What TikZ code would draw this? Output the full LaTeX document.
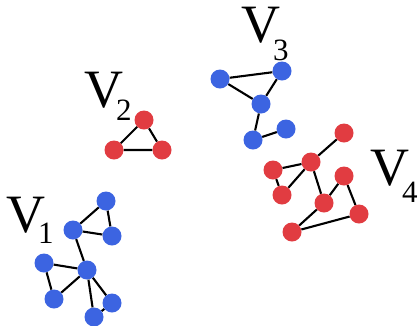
\documentclass[tikz,border=0pt]{standalone}
\usepackage{fontspec}
\setmainfont{Liberation Serif}
\usetikzlibrary{backgrounds}
\definecolor{vblue}{RGB}{60,100,225}
\definecolor{vred}{RGB}{225,60,65}
% V with a lowered index: #1 = drop, #2 = index
\newcommand{\setname}[2]{V\kern-7pt\raisebox{-#1}{\fontsize{31}{31}\selectfont #2}}
\begin{document}
\begin{tikzpicture}[x=1pt,y=-1pt,
  vtx/.style={circle,minimum size=19pt,inner sep=0pt},
  bv/.style={vtx,fill=vblue},
  rv/.style={vtx,fill=vred},
  edge/.style={line width=2.1pt},
  setlabel/.style={anchor=base west,inner sep=0pt,font=\fontsize{54}{54}\selectfont}]
\useasboundingbox (0,0) rectangle (419,325);
% V1
\node[bv] (a1) at (106,201) {};
\node[bv] (b1) at (73,230) {};
\node[bv] (c1) at (112,236) {};
\node[bv] (d1) at (87,270) {};
\node[bv] (e1) at (44,263) {};
\node[bv] (f1) at (54,299) {};
\node[bv] (g1) at (112,303) {};
\node[bv] (h1) at (94,317) {};
% V2
\node[rv] (a2) at (144,120) {};
\node[rv] (b2) at (114,150) {};
\node[rv] (c2) at (162,150) {};
% V3
\node[bv] (a3) at (220,79) {};
\node[bv] (b3) at (282,71) {};
\node[bv] (c3) at (261,104) {};
\node[bv] (d3) at (253,140) {};
\node[bv] (e3) at (286,129) {};
% V4
\node[rv] (a4) at (344,133) {};
\node[rv] (b4) at (311,162) {};
\node[rv] (c4) at (273,170) {};
\node[rv] (d4) at (282,195) {};
\node[rv] (e4) at (344,176) {};
\node[rv] (f4) at (324,203) {};
\node[rv] (g4) at (359,214) {};
\node[rv] (h4) at (292,232) {};
% edges
\begin{scope}[on background layer]
\draw[edge] (a1) -- (b1) -- (c1) -- (a1);
\draw[edge] (b1) -- (d1) -- (e1) -- (f1) -- (d1);
\draw[edge] (d1) -- (g1) -- (h1) -- (d1);
\draw[edge] (a2) -- (b2) -- (c2) -- (a2);
\draw[edge] (a3) -- (b3) -- (c3) -- (a3);
\draw[edge] (c3) -- (d3) -- (e3);
\draw[edge] (a4) -- (b4) -- (c4) -- (d4) -- (b4) -- (f4);
\draw[edge] (e4) -- (f4) -- (h4) -- (g4) -- (e4);
\end{scope}
% labels
\node[setlabel] (l1) at (6,232) {\setname{11pt}{1}};
\node[setlabel] (l2) at (84,107) {\setname{13pt}{2}};
\node[setlabel] (l3) at (241,42) {\setname{18pt}{3}};
\node[setlabel] (l4) at (370,185) {\setname{17pt}{4}};
\end{tikzpicture}
\end{document}
